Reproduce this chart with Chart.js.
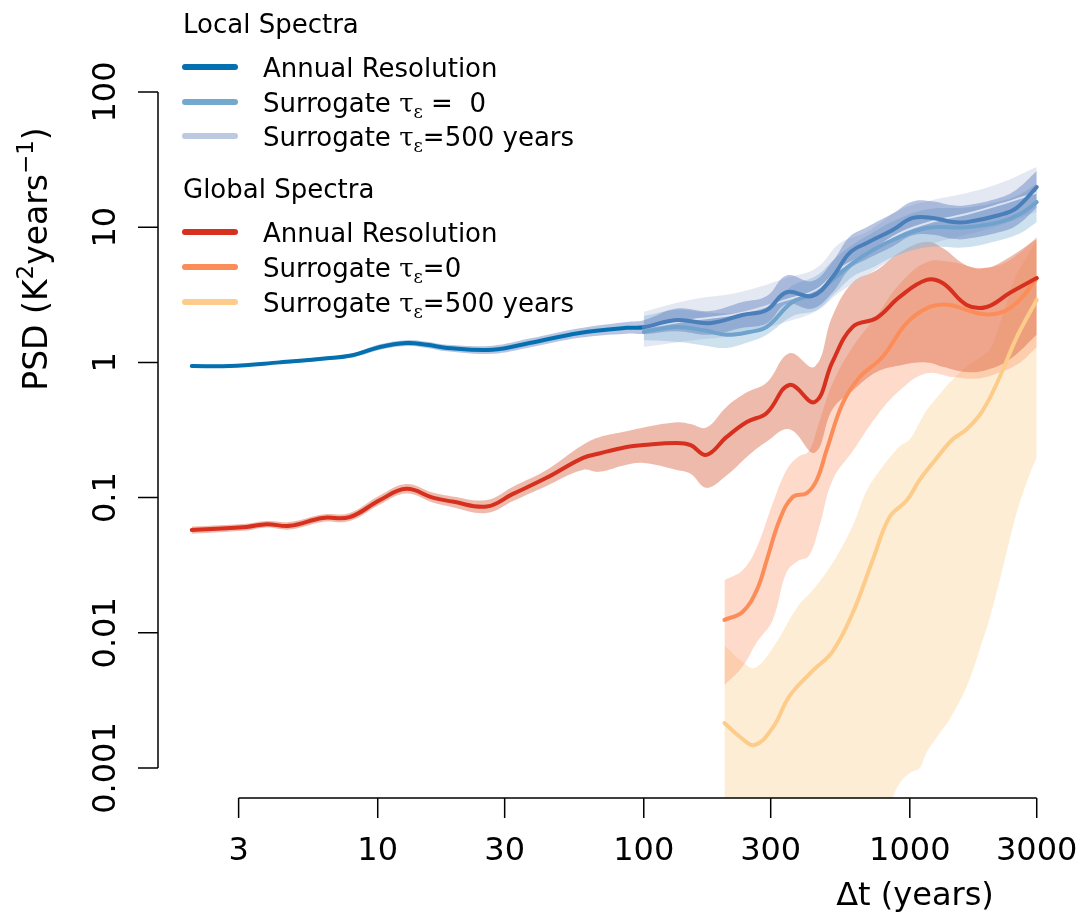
<!DOCTYPE html>
<html>
<head>
<meta charset="utf-8">
<title>PSD local vs global</title>
<script src="https://cdn.jsdelivr.net/npm/chart.js@4.4.1/dist/chart.umd.min.js"></script>
<style>
  html, body { margin: 0; padding: 0; background: #fff; }
  #wrap { width: 1083px; height: 921px; }
</style>
</head>
<body>
<div id="wrap"><canvas id="psdChart" width="1083" height="921"></canvas></div>
<script>
// ---- data: timescale (years) and PSD (K^2 years^-1) per series ----

// local spectra
const localAnnualT = [2.0, 2.77, 4.28, 6.05, 8.05, 10.2, 12.8, 15.3, 18.2, 27.0, 37.2, 57.4, 86.3, 100, 133, 177, 235, 290, 344, 431, 513, 594, 689, 862, 1026, 1220, 1449, 1636, 2178, 2522, 3000];
const localAnnualPSD = [0.94, 0.94, 1.00, 1.06, 1.13, 1.30, 1.39, 1.35, 1.28, 1.24, 1.39, 1.65, 1.80, 1.82, 2.06, 1.95, 2.24, 2.44, 3.30, 3.10, 4.29, 6.45, 7.64, 9.53, 11.7, 11.7, 10.9, 10.9, 12.3, 13.9, 19.8];
const localAnnualLo = [0.915, 0.915, 0.975, 1.03, 1.09, 1.24, 1.32, 1.28, 1.21, 1.16, 1.29, 1.52, 1.63, 1.62, 1.70, 1.60, 1.80, 1.95, 2.70, 2.50, 3.30, 4.90, 5.80, 7.20, 8.70, 8.80, 8.20, 8.20, 9.20, 10.3, 14.0];
const localAnnualHi = [0.965, 0.965, 1.03, 1.09, 1.17, 1.36, 1.46, 1.42, 1.35, 1.33, 1.50, 1.79, 1.99, 2.05, 2.50, 2.40, 2.80, 3.10, 4.40, 4.00, 5.60, 8.50, 10.0, 12.6, 15.5, 15.5, 14.5, 14.5, 16.5, 19.0, 26.0];

const localS0T = [100, 133, 170, 205, 250, 290, 363, 447, 520, 610, 720, 862, 1156, 1636, 2178, 2600, 3000];
const localS0PSD = [1.68, 1.83, 1.72, 1.60, 1.68, 1.83, 2.80, 3.26, 4.2, 5.43, 6.7, 8.04, 9.86, 10.0, 10.9, 12.5, 15.3];
const localS0Lo = [1.46, 1.42, 1.33, 1.28, 1.42, 1.6, 2.2, 2.44, 3.2, 4.3, 5.0, 6.0, 7.1, 7.1, 8.0, 9.0, 10.9];
const localS0Hi = [2.2, 2.45, 2.35, 2.3, 2.35, 2.5, 3.7, 4.4, 5.8, 7.4, 9.0, 11.0, 13.5, 14.0, 15.5, 17.5, 21.0];

const localS500T = [100, 150, 229, 344, 447, 545, 689, 916, 1220, 1636, 2178, 3000];
const localS500PSD = [1.8, 2.05, 2.3, 2.9, 3.45, 4.9, 6.3, 9.0, 11.0, 12.5, 14.7, 18.0];
const localS500Lo = [1.3, 1.45, 1.6, 2.0, 2.4, 3.3, 4.4, 6.2, 7.6, 8.8, 10.3, 13.0];
const localS500Hi = [2.37, 2.9, 3.3, 4.2, 5.0, 7.6, 9.2, 13.4, 15.9, 17.9, 21.1, 27.9];

// global spectra
const globalAnnualT = [2.0, 3.21, 3.82, 4.66, 6.21, 7.84, 10.2, 12.8, 16.1, 19.1, 25.7, 32.1, 43.1, 58.9, 68, 86.2, 100, 133, 150, 172, 205, 244, 290, 353, 439, 512, 610, 750, 916, 1156, 1329, 1636, 1945, 2373, 3000];
const globalAnnualPSD = [0.0576, 0.0607, 0.0636, 0.0618, 0.0707, 0.0717, 0.096, 0.116, 0.0999, 0.0934, 0.0859, 0.106, 0.140, 0.196, 0.212, 0.237, 0.245, 0.253, 0.244, 0.207, 0.281, 0.362, 0.423, 0.681, 0.509, 1.01, 1.83, 2.13, 3.05, 4.07, 3.86, 2.66, 2.57, 3.26, 4.2];
const globalAnnualLo = [0.054, 0.057, 0.060, 0.058, 0.066, 0.067, 0.089, 0.107, 0.092, 0.085, 0.077, 0.094, 0.122, 0.16, 0.155, 0.175, 0.18, 0.16, 0.15, 0.118, 0.146, 0.20, 0.26, 0.32, 0.215, 0.45, 0.62, 0.85, 0.95, 1.0, 0.93, 0.85, 0.88, 1.05, 1.6];
const globalAnnualHi = [0.061, 0.064, 0.067, 0.066, 0.075, 0.077, 0.104, 0.126, 0.109, 0.102, 0.096, 0.120, 0.160, 0.245, 0.28, 0.31, 0.33, 0.36, 0.35, 0.33, 0.47, 0.60, 0.71, 1.17, 0.93, 2.2, 3.9, 4.8, 6.5, 7.8, 7.0, 5.2, 5.0, 6.0, 8.2];

const globalS0T = [201, 235, 266, 290, 324, 363, 410, 447, 487, 560, 649, 791, 973, 1188, 1413, 1786, 2178, 2588, 3000];
const globalS0PSD = [0.01245, 0.01426, 0.0207, 0.0345, 0.0683, 0.101, 0.108, 0.135, 0.225, 0.501, 0.780, 1.10, 1.95, 2.57, 2.66, 2.32, 2.32, 2.90, 4.2];
const globalS0BandT = [201, 235, 266, 305, 344, 380, 417, 454, 513, 610, 750, 916, 1156, 1450, 1800, 2200, 2600, 3000];
const globalS0Lo = [0.0041, 0.0056, 0.0085, 0.0124, 0.028, 0.034, 0.037, 0.058, 0.135, 0.22, 0.40, 0.62, 0.83, 0.78, 0.76, 0.85, 1.0, 1.3];
const globalS0Hi = [0.0245, 0.029, 0.043, 0.09, 0.16, 0.20, 0.22, 0.35, 0.7, 1.3, 2.2, 3.8, 5.5, 5.5, 5.0, 5.3, 6.5, 8.5];

const globalS500T = [201, 229, 261, 305, 353, 431, 513, 610, 725, 839, 973, 1089, 1220, 1449, 1636, 1880, 2178, 2522, 3000];
const globalS500PSD = [0.00215, 0.00171, 0.00148, 0.00198, 0.0034, 0.00522, 0.0073, 0.014, 0.0344, 0.0717, 0.095, 0.135, 0.18, 0.27, 0.32, 0.44, 0.78, 1.53, 2.9];
const globalS500BandT = [201, 235, 261, 305, 380, 431, 513, 610, 689, 791, 862, 916, 1000, 1089, 1156, 1294, 1413, 1636, 1880, 2000, 2178, 2437, 2522, 2750, 3000];
const globalS500Lo = [0.0002, 0.0002, 0.0002, 0.0002, 0.0002, 0.0002, 0.0002, 0.00025, 0.0003, 0.0004, 0.0006, 0.00077, 0.00092, 0.001, 0.0013, 0.0018, 0.0023, 0.004, 0.0088, 0.013, 0.0245, 0.06, 0.0774, 0.13, 0.20];
const globalS500Hi = [0.0081, 0.0061, 0.0055, 0.0077, 0.0157, 0.0206, 0.033, 0.062, 0.113, 0.17, 0.21, 0.24, 0.27, 0.36, 0.44, 0.58, 0.71, 0.93, 1.12, 1.24, 1.9, 3.85, 4.5, 6.0, 8.0];

// axes
const xTicks = [3, 10, 30, 100, 300, 1000, 3000];
const xTickLabels = ['3', '10', '30', '100', '300', '1000', '3000'];
const yTicks = [0.001, 0.01, 0.1, 1, 10, 100];
const yTickLabels = ['0.001', '0.01', '0.1', '1', '10', '100'];
const xRange = [1.493, 4036];
const yRange = [0.0006, 383.7];

const FONT = '"DejaVu Sans", "Liberation Sans", sans-serif';

const pts = (xs, ys) => xs.map((x, i) => ({ x: x, y: ys[i] }));

function lineSet(label, xs, ys, color, width) {
    return {
        label, data: pts(xs, ys), borderColor: color, borderWidth: width || 4,
        pointRadius: 0, fill: false, tension: 0.4, borderCapStyle: 'round'
    };
}

// upper edge fills down to the lower edge right after it in the list
function bandSets(xs, lo, hi, color) {
    return [
        { data: pts(xs, hi), borderWidth: 0, pointRadius: 0, tension: 0.4,
          fill: { target: '+1' }, backgroundColor: color },
        { data: pts(xs, lo), borderWidth: 0, pointRadius: 0, tension: 0.4, fill: false }
    ];
}

const localAnnualLine = lineSet('local annual', localAnnualT, localAnnualPSD, '#0570b0');
// past 100 years the annual curve sits under the surrogate bands
localAnnualLine.segment = {
    borderColor: c => (c.p0.parsed.x >= 99 ? '#4a7fba' : '#0570b0')
};

const datasets = [
    localAnnualLine,
    lineSet('local s0', localS0T, localS0PSD, '#6fa3cd'),
    lineSet('local s500', localS500T, localS500PSD, 'rgba(226,231,243,0.9)', 2),
    lineSet('global annual', globalAnnualT, globalAnnualPSD, '#d7301f'),
    lineSet('global s0', globalS0T, globalS0PSD, '#fc8d59'),
    lineSet('global s500', globalS500T, globalS500PSD, '#fdcc8a'),
    ...bandSets(localAnnualT, localAnnualLo, localAnnualHi, 'rgba(95,127,191,0.45)'),
    ...bandSets(localS0T, localS0Lo, localS0Hi, 'rgba(116,169,207,0.35)'),
    ...bandSets(localS500T, localS500Lo, localS500Hi, 'rgba(189,201,225,0.42)'),
    ...bandSets(globalAnnualT, globalAnnualLo, globalAnnualHi, 'rgba(215,90,55,0.42)'),
    ...bandSets(globalS0BandT, globalS0Lo, globalS0Hi, 'rgba(252,141,89,0.32)'),
    ...bandSets(globalS500BandT, globalS500Lo, globalS500Hi, 'rgba(253,204,138,0.36)')
];

const legendGroups = [
    { title: 'Local Spectra', titleY: 33, entries: [
        { y: 67, color: '#0570b0', parts: [['Annual Resolution']] },
        { y: 102, color: '#74a9cf', parts: [['Surrogate '], ['τ', 'greek'], ['ε', 'sub'], [' =  0']] },
        { y: 136, color: '#bdc9e1', parts: [['Surrogate '], ['τ', 'greek'], ['ε', 'sub'], ['=500 years']] }
    ] },
    { title: 'Global Spectra', titleY: 198, entries: [
        { y: 232, color: '#d7301f', parts: [['Annual Resolution']] },
        { y: 267, color: '#fc8d59', parts: [['Surrogate '], ['τ', 'greek'], ['ε', 'sub'], ['=0']] },
        { y: 302, color: '#fdcc8a', parts: [['Surrogate '], ['τ', 'greek'], ['ε', 'sub'], ['=500 years']] }
    ] }
];

// draws text pieces with sub/superscripts, returns total width
function richText(ctx, x, y, parts, size, draw) {
    let cx = x;
    parts.forEach(([t, kind]) => {
        const small = kind === 'sub' || kind === 'sup';
        const s = small ? Math.round(size * 0.7) : size;
        const dy = kind === 'sub' ? size * 0.22 : (kind === 'sup' ? -size * 0.42 : 0);
        const fam = (kind === 'greek' || kind === 'sub') ? '"DejaVu Serif", serif' : FONT;
        ctx.font = `${s}px ${fam}`;
        if (draw) ctx.fillText(t, cx, y + dy);
        cx += ctx.measureText(t).width;
    });
    return cx - x;
}

const rAxes = {
    id: 'rAxes',
    afterDraw(chart) {
        const { ctx, chartArea } = chart;
        const xs = chart.scales.x, ys = chart.scales.y;
        ctx.save();
        ctx.strokeStyle = '#000';
        ctx.fillStyle = '#000';
        ctx.lineWidth = 1.5;

        // bottom axis
        const yb = chartArea.bottom;
        ctx.beginPath();
        ctx.moveTo(xs.getPixelForValue(xTicks[0]), yb);
        ctx.lineTo(xs.getPixelForValue(xTicks[xTicks.length - 1]), yb);
        xTicks.forEach(t => {
            const px = xs.getPixelForValue(t);
            ctx.moveTo(px, yb);
            ctx.lineTo(px, yb + 20);
        });
        // left axis
        const xl = chartArea.left;
        ctx.moveTo(xl, ys.getPixelForValue(yTicks[0]));
        ctx.lineTo(xl, ys.getPixelForValue(yTicks[yTicks.length - 1]));
        yTicks.forEach(t => {
            const py = ys.getPixelForValue(t);
            ctx.moveTo(xl, py);
            ctx.lineTo(xl - 20, py);
        });
        ctx.stroke();

        ctx.font = `32px ${FONT}`;
        ctx.textAlign = 'center';
        ctx.textBaseline = 'alphabetic';
        xTicks.forEach((t, i) => ctx.fillText(xTickLabels[i], xs.getPixelForValue(t), yb + 62));
        yTicks.forEach((t, i) => {
            ctx.save();
            ctx.translate(xl - 43, ys.getPixelForValue(t));
            ctx.rotate(-Math.PI / 2);
            ctx.fillText(yTickLabels[i], 0, 0);
            ctx.restore();
        });

        // axis titles
        ctx.fillText('Δt (years)', 915, 905);
        ctx.textAlign = 'left';
        const yTitle = [['PSD (K'], ['2', 'sup'], ['years'], ['−1', 'sup'], [')']];
        ctx.save();
        ctx.translate(47, 259);
        ctx.rotate(-Math.PI / 2);
        const w = richText(ctx, 0, 0, yTitle, 33, false);
        richText(ctx, -w / 2, 0, yTitle, 33, true);
        ctx.restore();

        // legend
        legendGroups.forEach(g => {
            ctx.font = `26px ${FONT}`;
            ctx.fillText(g.title, 183, g.titleY);
            g.entries.forEach(e => {
                ctx.beginPath();
                ctx.lineWidth = 6;
                ctx.lineCap = 'round';
                ctx.strokeStyle = e.color;
                ctx.moveTo(185, e.y);
                ctx.lineTo(235, e.y);
                ctx.stroke();
                richText(ctx, 263, e.y + 10, e.parts, 26, true);
            });
        });
        ctx.restore();
    }
};

new Chart(document.getElementById('psdChart'), {
    type: 'line',
    data: { datasets },
    options: {
        responsive: false,
        devicePixelRatio: 1,
        animation: false,
        events: [],
        layout: { padding: { left: 158, right: 12, top: 13, bottom: 123 } },
        plugins: { legend: { display: false }, tooltip: { enabled: false }, title: { display: false } },
        scales: {
            x: { type: 'logarithmic', min: xRange[0], max: xRange[1], bounds: 'data', display: false },
            y: { type: 'logarithmic', min: yRange[0], max: yRange[1], bounds: 'data', display: false }
        }
    },
    plugins: [rAxes]
});
</script>
</body>
</html>
